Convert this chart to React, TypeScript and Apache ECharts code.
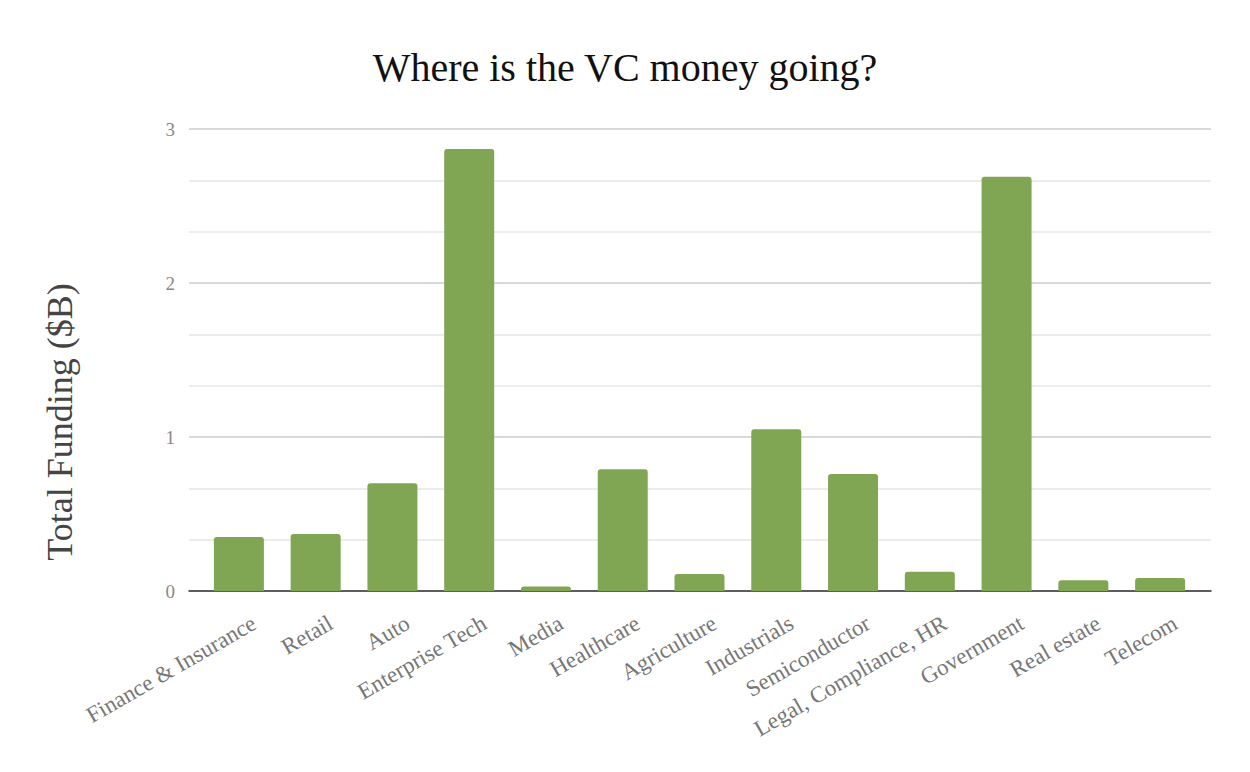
import React, { useEffect, useRef } from "react";
import * as echarts from "echarts";

const categories = [
  "Finance & Insurance",
  "Retail",
  "Auto",
  "Enterprise Tech",
  "Media",
  "Healthcare",
  "Agriculture",
  "Industrials",
  "Semiconductor",
  "Legal, Compliance, HR",
  "Government",
  "Real estate",
  "Telecom",
];
const funding = [0.35, 0.37, 0.7, 2.87, 0.03, 0.79, 0.11, 1.05, 0.76, 0.125, 2.69, 0.07, 0.085];
const yAxisTitle = "Total Funding ($B)";
const chartTitle = "Where is the VC money going?";

const FONT = "'Liberation Serif', 'DejaVu Serif', serif";

export default function App() {
  const ref = useRef<HTMLDivElement>(null);
  useEffect(() => {
    if (!ref.current) return;
    const chart = echarts.init(ref.current, undefined, { renderer: "svg" });
    chart.setOption({
      animation: false,
      textStyle: { fontFamily: FONT },
      title: {
        text: chartTitle,
        left: "center",
        top: 42,
        textStyle: { fontFamily: FONT, fontSize: 40, fontWeight: "normal", color: "#111" },
      },
      graphic: [
        {
          type: "text",
          x: 60,
          y: 422,
          rotation: Math.PI / 2,
          style: {
            text: yAxisTitle,
            fontFamily: FONT,
            fontSize: 36,
            fill: "#444",
            textAlign: "center",
            textVerticalAlign: "middle",
          },
        },
      ],
      grid: [
        { left: 189, right: 39, top: 129, bottom: 181, containLabel: false },
        { left: 200.5, right: 51.5, top: 129, bottom: 181, containLabel: false },
      ],
      xAxis: [
        {
          gridIndex: 0,
          type: "value",
          min: 0,
          max: 1,
          axisLabel: { show: false },
          axisTick: { show: false },
          splitLine: { show: false },
          axisLine: { show: true, onZero: false, lineStyle: { color: "#333", width: 1.5 } },
        },
        {
          gridIndex: 1,
          type: "category",
          data: categories,
          axisTick: { show: false },
          axisLine: { show: false },
          axisLabel: {
            rotate: 30,
            interval: 0,
            margin: 12,
            verticalAlign: "top",
            padding: [12, -4, 0, 0],
            color: "#777",
            fontSize: 23,
            fontFamily: FONT,
          },
        },
      ],
      yAxis: [
        {
          gridIndex: 0,
          type: "value",
          min: 0,
          max: 3,
          interval: 1,
          axisLine: { show: false },
          axisTick: { show: false },
          axisLabel: { color: "#888", fontSize: 19, margin: 14, fontFamily: FONT },
          splitLine: { lineStyle: { color: "#cccccc", width: 1.5 } },
          minorTick: { show: false, splitNumber: 3 },
          minorSplitLine: { show: true, lineStyle: { color: "#e6e6e6", width: 1.5 } },
        },
        {
          gridIndex: 1,
          type: "value",
          min: 0,
          max: 3,
          interval: 1,
          axisLine: { show: false },
          axisTick: { show: false },
          axisLabel: { show: false },
          splitLine: { show: false },
        },
      ],
      series: [
        {
          type: "bar",
          xAxisIndex: 1,
          yAxisIndex: 1,
          data: funding,
          barWidth: 50,
          z: 3,
          itemStyle: { color: "#80a654", borderRadius: [3, 3, 0, 0] },
        },
      ],
    });
    return () => chart.dispose();
  }, []);
  return (
    <div
      ref={ref}
      style={{ position: "absolute", left: 0, top: 0, width: 1250, height: 772 }}
    />
  );
}
